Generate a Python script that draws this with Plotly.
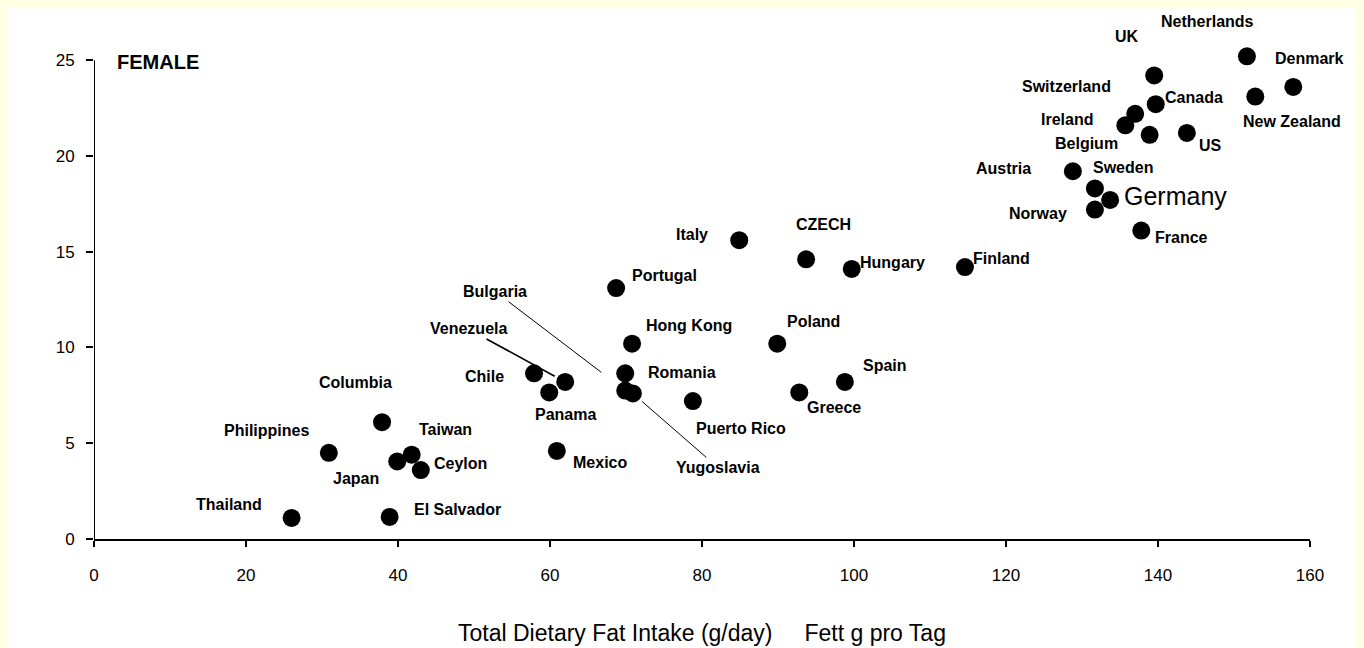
import plotly.graph_objects as go

# ---- data ----
countries = ["Thailand", "El Salvador", "Philippines", "Columbia", "Japan", "Taiwan", "Ceylon",
             "Chile", "Panama", "Venezuela", "Mexico", "Portugal", "Hong Kong", "Romania",
             "Bulgaria", "Yugoslavia", "Puerto Rico", "Italy", "CZECH", "Hungary", "Poland",
             "Greece", "Spain", "Finland", "Austria", "Sweden", "Norway", "Germany", "France",
             "Switzerland", "Ireland", "Belgium", "UK", "Canada", "US", "Netherlands",
             "Denmark", "New Zealand"]
fat_intake = [26.0, 38.9, 30.9, 37.9, 39.9, 41.8, 43.0,
              57.9, 59.9, 62.0, 60.9, 68.7, 70.8, 69.9,
              69.9, 70.9, 78.8, 84.9, 93.7, 99.7, 89.9,
              92.8, 98.8, 114.6, 128.8, 131.7, 131.7, 133.7, 137.8,
              137.0, 135.7, 138.9, 139.5, 139.7, 143.8, 151.7,
              157.8, 152.8]
mortality = [1.1, 1.15, 4.5, 6.1, 4.05, 4.4, 3.6,
             8.65, 7.65, 8.2, 4.6, 13.1, 10.2, 8.65,
             7.75, 7.6, 7.2, 15.6, 14.6, 14.1, 10.2,
             7.65, 8.2, 14.2, 19.2, 18.3, 17.2, 17.7, 16.1,
             22.2, 21.6, 21.1, 24.2, 22.7, 21.2, 25.2,
             23.6, 23.1]
x_ticks = [0, 20, 40, 60, 80, 100, 120, 140, 160]
y_ticks = [0, 5, 10, 15, 20, 25]

# label offsets in pixels (dx right, dy up)
label_offsets = {
    "Thailand": (-63, 13), "El Salvador": (68, 7), "Philippines": (-62, 22),
    "Columbia": (-27, 40), "Japan": (-41, -17), "Taiwan": (34, 25), "Ceylon": (40, 7),
    "Chile": (-50, -3), "Panama": (16, -22), "Mexico": (43, -12),
    "Portugal": (48, 13), "Hong Kong": (57, 18), "Romania": (57, 1),
    "Puerto Rico": (48, -27), "Italy": (-47, 6), "CZECH": (17, 35), "Hungary": (41, 6),
    "Poland": (36, 22), "Greece": (35, -15), "Spain": (40, 16), "Finland": (37, 9),
    "Austria": (-69, 3), "Sweden": (28, 21), "Norway": (-57, -4), "Germany": (65, 4),
    "France": (40, -7), "Switzerland": (-69, 27), "Ireland": (-58, 6), "Belgium": (-63, -9),
    "UK": (-27, 39), "Canada": (38, 7), "US": (24, -13), "Netherlands": (-39, 35),
    "Denmark": (16, 28), "New Zealand": (37, -25),
}
# labels connected by leader lines: (ax, ay) pixel offset of text from point (ay down), standoff
leader_labels = {"Bulgaria": (-130, -99, 30), "Venezuela": (-97, -53, 12),
                 "Yugoslavia": (85, 74, 12)}

FONT = "Liberation Sans, Arial, sans-serif"
LABEL_FONT = dict(family=FONT, size=16, color="black")
YELLOW = "#FFFFE4"

fig = go.Figure()
fig.add_trace(go.Scatter(
    x=fat_intake, y=mortality, mode="markers",
    marker=dict(color="black", size=18, line=dict(width=0)),
    cliponaxis=False, hoverinfo="text", text=countries, showlegend=False))

annotations = []
for name, xv, yv in zip(countries, fat_intake, mortality):
    if name in label_offsets:
        dx, dy = label_offsets[name]
        if name == "Germany":
            font = dict(family=FONT, size=25, color="black")
            txt = name
        else:
            font = LABEL_FONT
            txt = "<b>" + name + "</b>"
        annotations.append(dict(x=xv, y=yv, xref="x", yref="y", text=txt, showarrow=False,
                                xshift=dx, yshift=dy, font=font))
    elif name in leader_labels:
        ax, ay, so = leader_labels[name]
        annotations.append(dict(x=xv, y=yv, xref="x", yref="y", text="<b>" + name + "</b>",
                                showarrow=True, arrowhead=0,
                                arrowwidth=1.6 if name == "Venezuela" else 1,
                                arrowcolor="black", ax=ax, ay=ay, standoff=so, font=LABEL_FONT))

annotations.append(dict(x=2.8, y=24.9, xref="x", yref="y", xanchor="left", showarrow=False,
                        text="<b>FEMALE</b>", font=dict(family=FONT, size=20, color="black")))

fig.update_layout(
    width=1364, height=648,
    margin=dict(l=86, r=62, t=33, b=117),
    paper_bgcolor=YELLOW,
    plot_bgcolor="rgba(0,0,0,0)",
    annotations=annotations,
    shapes=[
        dict(type="rect", xref="paper", yref="paper", x0=-0.0707, x1=1.0378,
             y0=-0.235, y1=1.066, fillcolor="white", line=dict(width=0), layer="below"),
        dict(type="line", xref="x", yref="y", x0=x_ticks[0], x1=x_ticks[0],
             y0=y_ticks[0], y1=y_ticks[-1], line=dict(color="black", width=2)),
    ],
    xaxis=dict(range=[x_ticks[0], x_ticks[-1]], tickvals=x_ticks,
               ticktext=[str(v) for v in x_ticks],
               showgrid=False, zeroline=False, showline=True, linecolor="black", linewidth=2,
               ticks="outside", ticklen=6, tickwidth=1.5, tickcolor="black",
               ticklabelstandoff=14,
               tickfont=dict(family=FONT, size=17, color="black"),
               title=dict(text="Total Dietary Fat Intake (g/day)     Fett g pro Tag", standoff=40,
                          font=dict(family=FONT, size=23, color="black"))),
    yaxis=dict(range=[0, 26], tickvals=y_ticks, ticktext=[str(v) for v in y_ticks],
               showgrid=False, zeroline=False, showline=False,
               ticks="outside", ticklen=7, tickwidth=1.5, tickcolor="black",
               ticklabelstandoff=8,
               tickfont=dict(family=FONT, size=17, color="black")),
)

fig.write_html("out.html",
               post_script="document.body.style.backgroundColor='#FFFFE4';")
